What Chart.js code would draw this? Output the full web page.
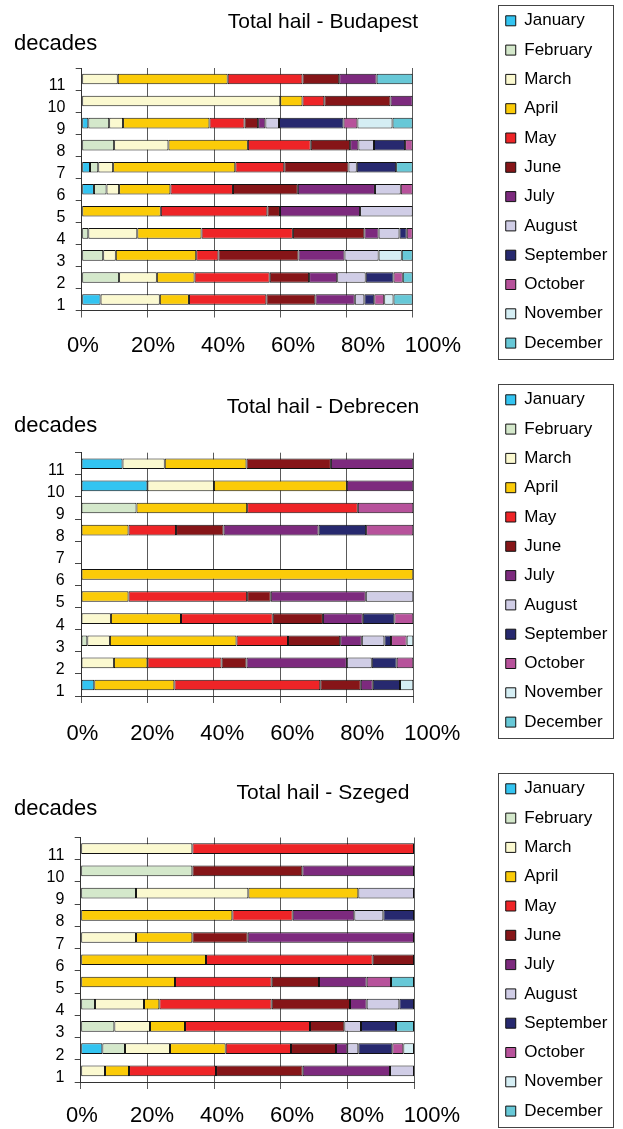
<!DOCTYPE html>
<html>
<head>
<meta charset="utf-8">
<script src="https://cdn.jsdelivr.net/npm/chart.js@4/dist/chart.umd.min.js"></script>
<style>
  html, body { margin: 0; padding: 0; background: #ffffff; width: 623px; height: 1129px; overflow: hidden; }
  .panel { position: absolute; left: 0; width: 623px; }
  canvas { display: block; }
</style>
</head>
<body>
<div class="panel" id="p0"><canvas id="c0"></canvas></div>
<div class="panel" id="p1"><canvas id="c1"></canvas></div>
<div class="panel" id="p2"><canvas id="c2"></canvas></div>
<script>
// ---------------- data ----------------
const months = ['January','February','March','April','May','June','July','August','September','October','November','December'];
const decades = ['1','2','3','4','5','6','7','8','9','10','11'];
const xTickValues = [0, 20, 40, 60, 80, 100];
const cityNames = ['Budapest', 'Debrecen', 'Szeged'];

// share of hail (%) per month (rows: Jan..Dec), per decade (columns: 1..11)
const budapestValues = [
  [5.7, 0, 0, 0, 0, 3.7, 2.5, 0, 2.0, 0, 0],
  [0, 11.3, 6.5, 2.0, 0, 3.8, 2.5, 9.8, 6.3, 0, 0],
  [17.9, 11.4, 3.8, 14.8, 0, 3.8, 4.5, 16.4, 4.2, 60.0, 10.9],
  [8.8, 11.4, 24.3, 19.4, 23.9, 15.5, 36.9, 24.0, 26.1, 6.7, 33.2],
  [23.4, 22.7, 6.7, 27.6, 32.2, 18.9, 14.8, 19.0, 10.6, 6.6, 22.6],
  [14.8, 11.9, 24.2, 21.6, 3.8, 19.6, 19.4, 11.9, 4.1, 20.0, 11.1],
  [11.9, 8.5, 13.9, 4.3, 24.2, 23.3, 0, 2.5, 2.2, 6.7, 11.3],
  [2.9, 8.6, 10.3, 6.3, 15.9, 7.8, 2.5, 4.7, 4.1, 0, 0],
  [3.0, 8.4, 0, 2.2, 0, 0, 11.9, 9.4, 19.5, 0, 0],
  [3.0, 2.8, 0, 1.8, 0, 3.6, 0, 2.3, 4.2, 0, 0],
  [2.8, 0, 7.0, 0, 0, 0, 0, 0, 10.6, 0, 0],
  [5.8, 3.0, 3.3, 0, 0, 0, 5.0, 0, 6.1, 0, 10.9]
];
const debrecenValues = [
  [4.0, 0, 0, 0, 0, 0, 0, 0, 0, 20.0, 12.5],
  [0, 0, 1.9, 0, 0, 0, 0, 0, 16.7, 0, 0],
  [0, 9.9, 6.8, 9.0, 0, 0, 0, 0, 0, 20.0, 12.7],
  [24.1, 10.1, 38.1, 21.1, 14.3, 100, 0, 14.3, 33.3, 40.0, 24.6],
  [43.9, 22.3, 15.5, 27.6, 35.7, 0, 0, 14.3, 33.3, 0, 0],
  [12.2, 7.5, 15.7, 15.1, 7.1, 0, 0, 14.3, 0, 0, 25.4],
  [3.6, 30.2, 6.5, 12.0, 28.6, 0, 0, 28.6, 0, 20.0, 24.8],
  [0, 7.5, 6.8, 0, 14.3, 0, 0, 0, 0, 0, 0],
  [8.2, 7.5, 2.0, 9.5, 0, 0, 0, 14.3, 0, 0, 0],
  [0, 5.0, 4.7, 5.7, 0, 0, 0, 14.2, 16.7, 0, 0],
  [4.0, 0, 2.0, 0, 0, 0, 0, 0, 0, 0, 0],
  [0, 0, 0, 0, 0, 0, 0, 0, 0, 0, 0]
];
const szegedValues = [
  [0, 6.5, 0, 0, 0, 0, 0, 0, 0, 0, 0],
  [0, 6.8, 10.1, 4.3, 0, 0, 0, 0, 16.6, 33.5, 0],
  [7.3, 13.5, 10.7, 14.7, 0, 0, 16.6, 0, 33.7, 0, 33.5],
  [7.2, 16.7, 10.5, 4.6, 28.3, 37.6, 16.9, 45.5, 33.0, 0, 0],
  [26.1, 19.6, 37.5, 33.7, 29.0, 50.0, 0, 18.1, 0, 0, 66.5],
  [26.0, 13.5, 10.3, 23.5, 14.2, 12.4, 16.6, 0, 0, 33.0, 0],
  [26.2, 3.4, 0, 5.0, 14.3, 0, 49.9, 18.5, 0, 33.5, 0],
  [7.2, 3.3, 5.0, 9.8, 0, 0, 0, 8.7, 16.7, 0, 0],
  [0, 10.2, 10.5, 4.4, 0, 0, 0, 9.2, 0, 0, 0],
  [0, 3.3, 0, 0, 7.3, 0, 0, 0, 0, 0, 0],
  [0, 3.2, 0, 0, 0, 0, 0, 0, 0, 0, 0],
  [0, 0, 5.4, 0, 6.9, 0, 0, 0, 0, 0, 0]
];
const cityValues = [budapestValues, debrecenValues, szegedValues];

// ---------------- styles / layout ----------------
const monthColors = ['#33C4F1','#D4E8CB','#FBF9D0','#FBCB08','#EE2427','#861518','#7D2A7E','#D0CDE6','#27296F','#B7529B','#D5EEF4','#67C8D7'];
const FONT = "'Liberation Sans', Arial, Helvetica, sans-serif";
const PADL = 28.6, PADR = 5.6;
const panelGeo = [
  { top: 0,   H: 379, chartTop: 68,   chartBottom: 310.5, chartLeft: 81.7, chartRight: 412.7, titleMid: 22.3, decadesY: 50,   xLabelMid: 344.3 },
  { top: 379, H: 389, chartTop: 73.7, chartBottom: 317,   chartLeft: 81,   chartRight: 413.3, titleMid: 28,   decadesY: 52.7, xLabelMid: 352.7 },
  { top: 768, H: 380, chartTop: 69.5, chartBottom: 314,   chartLeft: 80.7, chartRight: 414,   titleMid: 25,   decadesY: 47,   xLabelMid: 345.5 }
];

const cornerLabelPlugin = {
  id: 'cornerLabel',
  afterDraw(chart, args, opts) {
    const ctx = chart.ctx;
    ctx.save();
    ctx.font = '22px ' + FONT;
    ctx.fillStyle = '#000';
    ctx.textAlign = 'left';
    ctx.textBaseline = 'alphabetic';
    ctx.fillText(opts.text, opts.x, opts.y);
    ctx.restore();
  }
};
const legendFramePlugin = {
  id: 'legendFrame',
  afterDraw(chart) {
    const lg = chart.legend;
    if (!lg) return;
    const pad = lg.options.labels.padding;
    const ctx = chart.ctx;
    const left = lg.left + pad - 7.3;
    const top = lg.top + pad - 7.3;
    ctx.save();
    ctx.strokeStyle = '#444';
    ctx.lineWidth = 1;
    ctx.strokeRect(Math.round(left) + 0.5, Math.round(top) + 0.5, 115, 354);
    ctx.restore();
  }
};

function makeChart(idx) {
  const g = panelGeo[idx];
  const panel = document.getElementById('p' + idx);
  panel.style.top = g.top + 'px';
  panel.style.height = g.H + 'px';
  const canvas = document.getElementById('c' + idx);
  canvas.width = 623; canvas.height = g.H;
  canvas.style.width = '623px'; canvas.style.height = g.H + 'px';

  const values = cityValues[idx];
  const titleTop = g.titleMid - 12.6;
  const titleBottom = g.chartTop - titleTop - 25.2;
  const labelStart = g.chartLeft + 1.3;
  const unitPx = 3.5;
  const x2min = (g.chartLeft - labelStart) / unitPx;
  const x2max = x2min + (g.chartRight - g.chartLeft) / unitPx;

  new Chart(canvas, {
    type: 'bar',
    data: {
      labels: decades,
      datasets: months.map((m, i) => ({
        label: m,
        data: values[i].map(v => (v === 0 ? null : v)),
        backgroundColor: monthColors[i],
        borderColor: '#111',
        borderWidth: 1,
        borderSkipped: false,
        barPercentage: 0.48,
        categoryPercentage: 1,
        xAxisID: 'x',
        yAxisID: 'y'
      }))
    },
    options: {
      indexAxis: 'y',
      responsive: false,
      animation: false,
      devicePixelRatio: 1,
      layout: { padding: { left: PADL, right: PADR, top: 0, bottom: 0 } },
      scales: {
        x: {
          type: 'linear', stacked: true, min: 0, max: 100, position: 'bottom', weight: 0,
          ticks: { display: false, stepSize: 20 },
          grid: { display: true, color: '#5a5a5a', lineWidth: 1, drawTicks: true, tickLength: 7 },
          border: { display: true, color: '#333', width: 1 },
          afterFit(s) { s.height = 7; }
        },
        x2: {
          type: 'linear', position: 'bottom', weight: 1, min: x2min, max: x2max,
          afterBuildTicks(s) { s.ticks = xTickValues.map(v => ({ value: v })); },
          ticks: { font: { family: FONT, size: 22 }, color: '#000', padding: g.xLabelMid - (g.chartBottom + 7) - 13.2 - 6,
                   callback: v => v + '%', autoSkip: false, maxRotation: 0, minRotation: 0 },
          grid: { display: false },
          border: { display: false },
          afterFit(s) { s.height = g.H - g.chartBottom - 7; }
        },
        y: {
          type: 'category', stacked: true, reverse: true, position: 'left', offset: true,
          ticks: { font: { family: FONT, size: 16 }, color: '#000', padding: 10.4, labelOffset: 6.6, autoSkip: false },
          grid: { display: true, drawOnChartArea: false, drawTicks: true, tickLength: 6, color: '#444', offset: true },
          border: { display: true, color: '#333', width: 1 },
          afterFit(s) { s.width = g.chartLeft - PADL; }
        },
        yR: {
          type: 'linear', position: 'right', display: true,
          ticks: { display: false }, grid: { display: false }, border: { display: false },
          afterFit(s) { s.width = (s.chart.width - PADR - s.chart.legend.width) - g.chartRight; }
        }
      },
      plugins: {
        title: {
          display: true, text: 'Total hail - ' + cityNames[idx], color: '#000',
          font: { family: FONT, size: 21, weight: 'normal' },
          padding: { top: titleTop, bottom: titleBottom }
        },
        legend: {
          display: true, position: 'right', align: 'start', maxWidth: 200,
          labels: { font: { family: FONT, size: 17 }, color: '#000', boxWidth: 10, boxHeight: 10, padding: 12.3 }
        },
        tooltip: { enabled: false },
        cornerLabel: { text: 'decades', x: 14, y: g.decadesY }
      }
    },
    plugins: [cornerLabelPlugin, legendFramePlugin]
  });
}
[0, 1, 2].forEach(makeChart);
</script>
</body>
</html>
